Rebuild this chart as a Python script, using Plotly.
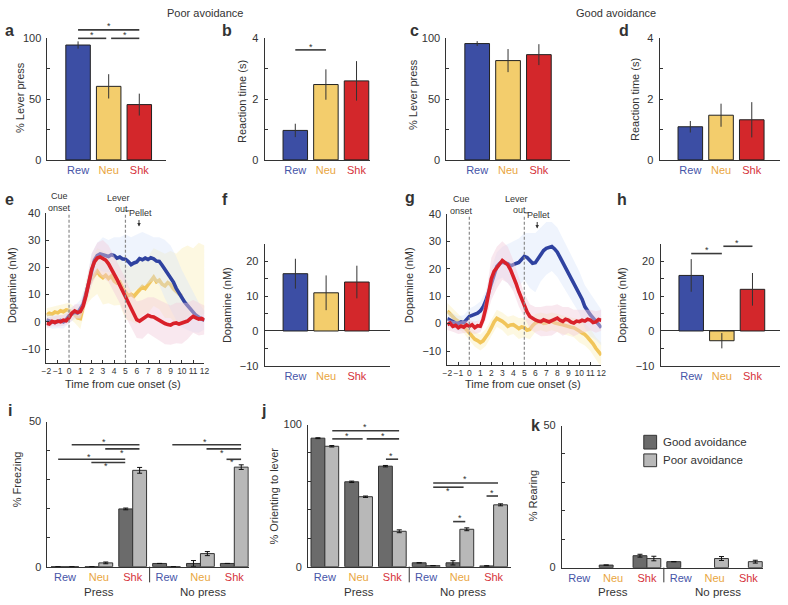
import plotly.graph_objects as go

W, H = 788, 605
FONT = "Liberation Sans, Arial, Helvetica, sans-serif"
TXT = "#333333"
AX = "#333333"

# ---------------- categories / colours ----------------
cats = ["Rew", "Neu", "Shk"]
cat_text_colors = ["#4654a8", "#e9a63e", "#d5323a"]
bar_colors = ["#3c4ea4", "#f3cd6c", "#d3272b"]
line_colors = {"Rew": "#2f42a0", "Neu": "#f1c55a", "Shk": "#d9212a"}
band_colors = {"Rew": "rgba(215,228,250,0.40)", "Neu": "rgba(250,236,170,0.35)",
               "Shk": "rgba(242,205,220,0.45)"}

# ---------------- a-d, f, h bar data ----------------
lever_poor = [94.5, 60.5, 45.5]
lever_poor_err = [3, 10, 9]
rt_poor = [0.97, 2.48, 2.6]
rt_poor_err = [0.22, 0.5, 0.65]
lever_good = [95.7, 81.7, 86.6]
lever_good_err = [2, 9.5, 8.6]
rt_good = [1.09, 1.47, 1.32]
rt_good_err = [0.19, 0.38, 0.58]
da_poor = [16.5, 11.0, 14.1]
da_poor_err = [4.3, 5.0, 4.7]
da_good = [16.0, -2.8, 12.0]
da_good_err = [4.7, 2.2, 4.7]

# ---------------- i-k behaviour data ----------------
beh_groups = ["Rew", "Neu", "Shk", "Rew", "Neu", "Shk"]
freeze_good = [0, 0, 19.9, 1.1, 1.1, 1.1]
freeze_good_err = [0, 0, 0.3, 0, 1.0, 0]
freeze_poor = [0, 1.3, 33.2, 0, 4.5, 34.3]
freeze_poor_err = [0, 0.3, 1.0, 0, 0.7, 0.8]
orient_good = [90.4, 59.7, 70.7, 2.7, 2.7, 0.5]
orient_good_err = [0.3, 0.5, 0.5, 0, 1.5, 0.2]
orient_poor = [84.7, 49.2, 24.9, 0.7, 26.3, 43.5]
orient_poor_err = [0.5, 0.5, 1.0, 0, 1.0, 0.7]
rear_good = [None, 0.9, 4.2, 2.1, None, None]
rear_good_err = [0, 0, 0.5, 0, 0, 0]
rear_poor = [None, None, 3.2, None, 3.2, 2.1]
rear_poor_err = [0, 0, 0.8, 0, 0.7, 0.5]

# ---------------- e, g dopamine traces (0.25 s samples, -2..12 s) ----------------
t_line = [-2 + 0.25 * i for i in range(57)]
t_band = [-2 + 0.5 * i for i in range(29)]

e_rew = [0.7, 0.2, 0.0, -0.3, 0.1, 0.5, 0.0, 0.8, 2.2, 3.0, 3.6, 3.2, 4.8, 6.5, 10.2, 14.8,
         19.2, 22.6, 24.3, 24.9, 24.6, 24.2, 24.0, 24.6, 24.3, 23.4, 23.8, 23.1, 23.0, 22.1,
         21.0, 21.6, 22.0, 23.2, 22.8, 23.4, 22.9, 23.5, 23.1, 22.3, 22.2, 20.8, 19.3, 17.9,
         16.2, 14.6, 12.3, 10.4, 8.5, 7.2, 6.0, 4.6, 3.6, 2.4, 1.5, 1.0, 0.6]
e_neu = [2.5, 3.2, 2.8, 3.6, 3.3, 4.1, 3.7, 4.4, 4.2, 3.5, 2.6, 1.5, 1.2, 5.5, 10.5, 13.6,
         15.8, 17.2, 18.6, 17.0, 16.2, 17.1, 15.9, 16.8, 15.0, 14.2, 14.6, 12.4, 11.0, 9.6,
         10.1, 9.4, 10.6, 11.8, 12.9, 12.2, 13.6, 15.1, 16.4, 14.7, 15.3, 13.8, 13.2, 14.4,
         13.7, 12.1, 11.0, 10.2, 9.6, None, None, None, None, None, None, None, None]
e_shk = [-0.5, -0.8, 0.2, -0.2, 0.3, 0.0, 0.6, 0.4, 1.5, 3.2, 4.0, 3.4, 3.8, 5.8, 9.6, 14.4,
         19.2, 22.0, 23.4, 23.8, 23.1, 22.6, 21.3, 19.6, 17.5, 15.6, 13.4, 11.2, 9.0, 6.8,
         4.5, 2.4, 0.8, 0.3, 0.9, 1.6, 2.4, 2.0, 1.8, 1.2, 0.6, -0.2, -0.6, -1.0, -1.2, -0.6,
         -0.4, -0.8, -0.5, -0.2, 0.3, 1.2, 2.0, 1.5, 1.0, 1.3, 0.7]

e_rew_hi = [3, 2.5, 2.5, 2.5, 5, 6, 8, 14, 25, 29, 31, 30, 31, 31, 32, 31, 32, 33, 32, 31,
            31, 30, 28, 24, 19, 15, 11, 7, 4]
e_rew_lo = [-1.5, -2.5, -2.3, -2.4, -0.5, 1, 1.5, 6.5, 13.5, 19.5, 18.5, 18.3, 17.6, 16.5,
            14, 11, 12, 13, 14, 15.2, 13.4, 8.6, 4.4, 0.6, -2, -3, -3.8, -4, -2.8]
e_neu_hi = [5, 5.5, 6, 6.5, 7, 5.5, 5, 15, 23, 27, 26, 25, 24, 23, 21, 20, 22, 23, 24, 27,
            26, 25, 26, 25, 27, 28, 27, 29, 28]
e_neu_lo = [0, 0, 0.6, 1, 1.4, -0.3, -2.6, 6, 8.6, 10.2, 6.4, 6.8, 6, 6.2, 1, 0.2, -0.8,
            2.6, 3.2, 5.8, 4.6, 1.4, 1.4, -1, 0, 2, 3, 2, 3]
e_shk_hi = [1.5, 2, 2.3, 2.6, 3.5, 6.5, 6.5, 13, 25, 29, 30, 28, 24, 20, 16, 11, 7.5, 8, 9,
            9, 8, 7, 6, 7, 7, 7, 8, 7, 6]
e_shk_lo = [-2.5, -1.6, -1.7, -1.4, -0.5, 1.5, 1.1, 6.2, 13.4, 17.8, 16.2, 14.6, 11, 6.8, 2,
            -2, -5.9, -6.2, -4.2, -5.4, -6.8, -8.2, -8.4, -7.8, -8, -6.4, -4, -5, -4.6]

g_rew = [1.8, 1.2, 0.8, 0.2, 0.0, 0.6, 0.3, 1.4, 2.6, 3.0, 3.3, 3.8, 4.6, 6.0, 8.3, 11.5,
         15.2, 18.6, 20.8, 21.9, 22.4, 22.1, 21.8, 21.0, 21.3, 21.9, 22.3, 23.6, 24.5, 24.1,
         23.0, 22.0, 22.2, 23.6, 25.2, 26.6, 27.4, 27.9, 28.1, 27.2, 26.0, 24.1, 22.2, 20.3,
         18.6, 16.9, 15.0, 13.3, 11.4, 8.9, 6.2, 4.4, 3.2, 2.1, 1.0, -0.4, -1.5]
g_neu = [4.6, 3.4, 2.6, 1.5, 0.8, -0.2, -1.0, -2.2, -3.3, -4.6, -5.7, -6.2, -6.9, -6.3, -5.1,
         -3.4, -1.5, 0.6, 1.9, 1.4, 0.8, 0.0, -1.0, -0.5, -0.4, -1.1, -1.8, -1.2, -1.5, -2.4,
         -2.1, -0.8, 0.2, 0.6, 0.8, 0.1, 0.2, 0.9, 0.8, 0.3, 0.2, -0.2, -0.4, -0.8, -1.0,
         -1.3, -1.5, -2.0, -2.7, -3.4, -4.0, -5.0, -6.0, -7.4, -9.0, -10.2, -11.5]
g_shk = [-0.4, 0.2, -1.0, -0.6, -1.5, -0.9, -1.3, -0.5, -1.0, -0.4, -1.5, -0.8, -1.0, 1.5,
         5.6, 11.2, 16.3, 19.0, 20.4, 21.8, 23.0, 22.2, 21.4, 19.6, 17.4, 14.6, 11.6, 8.9,
         6.6, 4.2, 2.6, 1.8, 1.3, 0.9, 0.7, 1.4, 1.0, 0.6, 1.1, 1.6, 2.0, 1.2, 0.8, 1.6, 1.3,
         0.5, 0.2, 0.9, 0.7, 1.2, 0.9, 1.6, 1.3, 0.4, 0.6, 1.5, 1.2]

g_rew_hi = [4.5, 3.5, 2.8, 3, 5.5, 6.5, 8, 12, 20, 26, 28, 29, 30, 31, 33, 33, 33, 35, 37,
            37, 35, 31, 27, 23, 19, 14, 11, 8, 5]
g_rew_lo = [-0.9, -1.9, -2.8, -2.4, -0.3, 0.1, 1.2, 4.6, 10.4, 15.6, 16.8, 14.6, 12.6, 13.6,
            16, 13, 11.4, 15.4, 17.8, 19.2, 17, 13.4, 10.2, 7, 3.8, -1.6, -4.6, -6, -8]
g_neu_hi = [7.5, 5.5, 3.5, 1.5, -0.5, -3, -4, -2, 1.5, 5, 4, 2.5, 3, 2, 2, 1.5, 3.5, 4,
            3.5, 4, 3.5, 3, 2.5, 2, 1.5, 0, -2, -5, -7]
g_neu_lo = [1.7, -0.3, -1.9, -3.5, -6.1, -8.4, -9.8, -8.2, -4.5, -1.2, -2.4, -4.5, -3.8,
            -5.6, -5, -5.7, -3.1, -2.4, -3.1, -2.4, -3.1, -3.8, -4.5, -5, -6.9, -8, -10,
            -13, -16]
g_shk_hi = [1.5, 1, 0.8, 0.9, 1.2, 0.8, 1.2, 9.6, 24, 28, 30, 28, 23, 17, 11, 7, 6, 6, 6.5,
            6.5, 7, 6, 6, 5, 5, 5, 5, 4.5, 5]
g_shk_lo = [-2.3, -3, -3.8, -3.5, -3.2, -3.8, -3.2, 1.6, 8.6, 12.8, 16, 14.8, 11.8, 6.2, 2.2,
            -1.8, -3.4, -4.6, -4.5, -4.3, -3, -4.4, -3.4, -4.6, -3.6, -3.2, -2.4, -3.3, -2.6]

# ---------------- panel geometry (pixels) ----------------
panels = {
    "a": dict(n=1, x=(43, 163), y=(33, 157), xr=(0, 3.87), yr=(0, 100)),
    "b": dict(n=2, x=(263, 370), y=(33, 157), xr=(0, 3.45), yr=(0, 4)),
    "c": dict(n=3, x=(447, 572), y=(33, 157), xr=(0, 4.0), yr=(0, 100)),
    "d": dict(n=4, x=(663, 785), y=(33, 157), xr=(0, 3.92), yr=(0, 4)),
    "e": dict(n=5, x=(42, 202), y=(211, 364), xr=(-2, 12), yr=(-15, 40)),
    "f": dict(n=6, x=(263, 390), y=(243, 367), xr=(0, 4.08), yr=(-10, 25)),
    "g": dict(n=7, x=(448, 604), y=(212, 366), xr=(-2, 12), yr=(-15, 40)),
    "h": dict(n=8, x=(664, 785), y=(243, 367), xr=(0, 3.9), yr=(-10, 25)),
    "i": dict(n=9, x=(43, 247), y=(424, 572), xr=(0.484, 6.43), yr=(0, 50)),
    "j": dict(n=10, x=(307, 512), y=(427, 572), xr=(0.504, 6.5), yr=(0, 100)),
    "k": dict(n=11, x=(564, 768), y=(428, 573), xr=(0.484, 6.44), yr=(0, 50)),
}


def P(xpx, ypx):
    return xpx / W, 1 - ypx / H


def to_paper(p, x, y):
    d = panels[p]
    X = d["x"][0] + (x - d["xr"][0]) / (d["xr"][1] - d["xr"][0]) * (d["x"][1] - d["x"][0])
    Y = d["y"][1] - (y - d["yr"][0]) / (d["yr"][1] - d["yr"][0]) * (d["y"][1] - d["y"][0])
    return P(X, Y)


def axn(p):
    n = panels[p]["n"]
    return ("x", "y") if n == 1 else (f"x{n}", f"y{n}")


def colored(labels):
    return [f"<span style='color:{cat_text_colors[cats.index(l)]}'>{l}</span>" for l in labels]


fig = go.Figure()
layout = dict(width=W, height=H, margin=dict(l=0, r=0, t=0, b=0),
              paper_bgcolor="white", plot_bgcolor="white", showlegend=False,
              barmode="overlay", font=dict(family=FONT, size=11, color=TXT))

tickfont = dict(family=FONT, size=11, color=TXT)

for p, d in panels.items():
    n = d["n"]
    xk = "xaxis" if n == 1 else f"xaxis{n}"
    yk = "yaxis" if n == 1 else f"yaxis{n}"
    xa, ya = axn(p)
    xd = [d["x"][0] / W, d["x"][1] / W]
    yd = [1 - d["y"][1] / H, 1 - d["y"][0] / H]
    layout[xk] = dict(domain=xd, range=list(d["xr"]), anchor=ya, showline=True, linecolor=AX,
                      linewidth=1, showgrid=False, zeroline=False, ticks="", fixedrange=True,
                      tickfont=tickfont, tickangle=0)
    layout[yk] = dict(domain=yd, range=list(d["yr"]), anchor=xa, showline=True, linecolor=AX,
                      linewidth=1, showgrid=False, zeroline=False, ticks="inside", ticklen=3,
                      tickcolor=AX, fixedrange=True, tickfont=tickfont, ticklabelstandoff=3)


def set_y(p, vals, texts):
    n = panels[p]["n"]
    yk = "yaxis" if n == 1 else f"yaxis{n}"
    layout[yk].update(tickmode="array", tickvals=vals, ticktext=texts)


def set_x(p, vals, texts, **kw):
    n = panels[p]["n"]
    xk = "xaxis" if n == 1 else f"xaxis{n}"
    layout[xk].update(tickmode="array", tickvals=vals, ticktext=texts, **kw)


# ---- simple 3-bar panels ----
for p, vals, errs in [("a", lever_poor, lever_poor_err), ("b", rt_poor, rt_poor_err),
                      ("c", lever_good, lever_good_err), ("d", rt_good, rt_good_err),
                      ("f", da_poor, da_poor_err), ("h", da_good, da_good_err)]:
    xa, ya = axn(p)
    fig.add_trace(go.Bar(x=[1, 2, 3], y=vals, width=0.8, offset=-0.4, xaxis=xa, yaxis=ya,
                         marker=dict(color=bar_colors, line=dict(color="#222", width=1)),
                         error_y=dict(type="data", array=errs, color="#333", thickness=1, width=0),
                         hoverinfo="skip"))
    set_x(p, [1, 2, 3], colored(cats))

set_y("a", [0, 25, 50, 75, 100], ["0", "", "50", "", "100"])
set_y("c", [0, 25, 50, 75, 100], ["0", "", "50", "", "100"])
set_y("b", [0, 1, 2, 3, 4], ["0", "", "2", "", "4"])
set_y("d", [0, 1, 2, 3, 4], ["0", "", "2", "", "4"])
for p in ["f", "h"]:
    set_y(p, [-10, -5, 0, 5, 10, 15, 20], ["−10", "", "0", "", "10", "", "20"])
    n = panels[p]["n"]
    layout[f"yaxis{n}"].update(zeroline=True, zerolinecolor=AX, zerolinewidth=1)

# ---- dopamine traces ----
for p, series in [("e", [("Neu", e_neu, e_neu_hi, e_neu_lo), ("Rew", e_rew, e_rew_hi, e_rew_lo),
                         ("Shk", e_shk, e_shk_hi, e_shk_lo)]),
                  ("g", [("Neu", g_neu, g_neu_hi, g_neu_lo), ("Rew", g_rew, g_rew_hi, g_rew_lo),
                         ("Shk", g_shk, g_shk_hi, g_shk_lo)])]:
    xa, ya = axn(p)
    for name, mean, hi, lo in series:
        fig.add_trace(go.Scatter(x=t_band + t_band[::-1], y=hi + lo[::-1], fill="toself",
                                 fillcolor=band_colors[name], line=dict(width=0), mode="lines",
                                 xaxis=xa, yaxis=ya, hoverinfo="skip"))
        fig.add_trace(go.Scatter(x=t_line, y=mean, mode="lines", name=name,
                                 line=dict(color=line_colors[name], width=3.6),
                                 xaxis=xa, yaxis=ya, hoverinfo="skip"))
    set_x(p, list(range(-2, 13)), [("−" + str(-v)) if v < 0 else str(v) for v in range(-2, 13)],
          ticks="inside", ticklen=3, tickcolor=AX, tickangle=0,
          tickfont=dict(family=FONT, size=8.5, color=TXT))
    set_y(p, [-10, 0, 10, 20, 30, 40], ["−10", "0", "10", "20", "30", "40"])

# ---- behaviour panels ----
for p, good, goode, poor, poore in [("i", freeze_good, freeze_good_err, freeze_poor, freeze_poor_err),
                                    ("j", orient_good, orient_good_err, orient_poor, orient_poor_err),
                                    ("k", rear_good, rear_good_err, rear_poor, rear_poor_err)]:
    xa, ya = axn(p)
    xs = [1, 2, 3, 4, 5, 6]
    fig.add_trace(go.Bar(x=xs, y=good, width=0.41, offset=-0.41, name="Good avoidance",
                         marker=dict(color="#6b6b6b", line=dict(color="#333", width=1)),
                         error_y=dict(type="data", array=goode, color="#111", thickness=1, width=2.5),
                         xaxis=xa, yaxis=ya, hoverinfo="skip"))
    fig.add_trace(go.Bar(x=xs, y=poor, width=0.41, offset=0, name="Poor avoidance",
                         marker=dict(color="#b8b8b8", line=dict(color="#333", width=1)),
                         error_y=dict(type="data", array=poore, color="#111", thickness=1, width=2.5),
                         xaxis=xa, yaxis=ya, hoverinfo="skip"))
    set_x(p, xs, colored(beh_groups))
set_y("i", [0, 10, 20, 30, 40, 50], ["0", "", "", "", "", "50"])
set_y("k", [0, 10, 20, 30, 40, 50], ["0", "", "", "", "", "50"])
set_y("j", [0, 20, 40, 60, 80, 100], ["0", "", "", "", "", "100"])

# ---------------- annotations & shapes ----------------
ann = []
shapes = []


def text(xpx, ypx, s, size=11, bold=False, angle=0, xanchor="center", color=TXT):
    x, y = P(xpx, ypx)
    ann.append(dict(x=x, y=y, xref="paper", yref="paper", text=f"<b>{s}</b>" if bold else s,
                    showarrow=False, textangle=angle, xanchor=xanchor, yanchor="middle",
                    font=dict(family=FONT, size=size, color=color)))


def sig(p, x0, x1, y):
    a0 = to_paper(p, x0, y)
    a1 = to_paper(p, x1, y)
    shapes.append(dict(type="line", xref="paper", yref="paper", x0=a0[0], y0=a0[1],
                       x1=a1[0], y1=a1[1], line=dict(color="#3a3a3a", width=1.6)))


def star(p, x, y):
    a = to_paper(p, x, y)
    ann.append(dict(x=a[0], y=a[1], xref="paper", yref="paper", text="*", showarrow=False,
                    xanchor="center", yanchor="middle", font=dict(family=FONT, size=9, color=TXT)))


# titles
text(203, 7, "Poor avoidance", size=11)
text(619, 7, "Good avoidance", size=11)

# panel letters
for s, xp, yp in [("a", 5, 25), ("b", 225, 25), ("c", 415, 25), ("d", 627, 25),
                  ("e", 5, 197), ("f", 223, 197), ("g", 410, 195), ("h", 625, 197),
                  ("i", 5, 413), ("j", 262, 413), ("k", 537, 428)]:
    text(xp, yp, s, size=16, bold=True)

# y axis titles
for s, xp, yp in [("% Lever press", 15, 93), ("Reaction time (s)", 240, 97),
                  ("% Lever press", 413, 90), ("Reaction time (s)", 638, 95),
                  ("Dopamine (nM)", 7, 285), ("Dopamine (nM)", 225, 305),
                  ("Dopamine (nM)", 410, 285), ("Dopamine (nM)", 625, 305),
                  ("% Freezing", 13, 483), ("% Orienting to lever", 273, 500),
                  ("% Rearing", 535, 500)]:
    text(xp, yp, s, size=11, angle=-90)

# x axis titles for traces
text(120, 386, "Time from cue onset (s)", size=11)
text(525, 386, "Time from cue onset (s)", size=11)

# event markers in e and g
for p, cue_xy, lever_xy, pellet_xy, arrow_x, arrow_y in [
        ("e", (55, 194), (115, 196), (137, 211), 6.2, (217, 225)),
        ("g", (462, 197), (518, 197), (540, 213), 6.17, (219, 227))]:
    n = panels[p]["n"]
    for tv in [0, 5]:
        shapes.append(dict(type="line", xref=f"x{n}", yref=f"y{n}", x0=tv, x1=tv, y0=-15, y1=39.5,
                           line=dict(color="#8a8a8a", width=1.2, dash="3px,2px")))
    text(cue_xy[0], cue_xy[1], "Cue", size=9)
    text(cue_xy[0], cue_xy[1] + 12, "onset", size=9)
    text(lever_xy[0], lever_xy[1], "Lever", size=9)
    text(lever_xy[0] + 3, lever_xy[1] + 11, "out", size=9)
    text(pellet_xy[0], pellet_xy[1], "Pellet", size=9)
    lx = to_paper(p, 5, 0)[0]
    shapes.append(dict(type="line", xref="paper", yref="paper",
                       x0=lx, x1=lx + 4 / W, y0=1 - (pellet_xy[1] - 2) / H, y1=1 - (pellet_xy[1] - 2) / H,
                       line=dict(color="#555", width=1)))
    ax_p = to_paper(p, arrow_x, 0)[0]
    ann.append(dict(x=ax_p, y=1 - arrow_y[1] / H, xref="paper", yref="paper", text="",
                    showarrow=True, ax=0, ay=-(arrow_y[1] - arrow_y[0]), arrowhead=2,
                    arrowsize=0.7, arrowwidth=1, arrowcolor="#333"))

# significance bars
sig("a", 1, 3, 107); star("a", 2, 110)
sig("a", 1, 1.92, 100); star("a", 1.46, 103)
sig("a", 2.08, 3, 100); star("a", 2.54, 103)
sig("b", 1, 2, 3.62); star("b", 1.5, 3.73)
sig("h", 1, 2, 22.3); star("h", 1.5, 23.3)
sig("h", 2.05, 3, 24.4); star("h", 2.5, 25.4)

sig("i", 1.2, 3.2, 42); star("i", 2.15, 43.1)
sig("i", 2.19, 3.2, 40.6); star("i", 2.68, 39.3)
sig("i", 0.8, 2.78, 37); star("i", 1.71, 37.8)
sig("i", 1.78, 2.78, 35.9); star("i", 2.21, 34.7)
sig("i", 4.17, 6.2, 42); star("i", 5.14, 43.1)
sig("i", 5.18, 6.2, 40.6); star("i", 5.64, 39.3)
sig("i", 5.77, 6.2, 37); star("i", 5.94, 36.0)

sig("j", 1.22, 3.2, 95.6); star("j", 2.2, 98.4)
sig("j", 1.22, 2.12, 89.9); star("j", 1.66, 92.2)
sig("j", 2.24, 3.2, 89.9); star("j", 2.71, 92.2)
sig("j", 2.81, 3.17, 75.6); star("j", 2.97, 77.9)
sig("j", 4.21, 6.13, 58.9); star("j", 5.16, 61.6)
sig("j", 4.21, 5.11, 55.9); star("j", 4.65, 53.1)
sig("j", 4.8, 5.16, 31.7); star("j", 4.99, 34.3)
sig("j", 5.79, 6.13, 49.7); star("j", 5.96, 51.9)

# press / no press labels and separators
for p in ["i", "j", "k"]:
    a = to_paper(p, 3.5, 0)
    shapes.append(dict(type="line", xref="paper", yref="paper", x0=a[0], x1=a[0],
                       y0=a[1], y1=1 - 588 / H, line=dict(color=AX, width=1)))
    xp2 = to_paper(p, 2, 0)[0] * W
    xp5 = to_paper(p, 5, 0)[0] * W
    text(xp2, 598, "Press", size=11.5)
    text(xp5 + 3, 598, "No press", size=11.5)

# legend for i-k
for (y0, y1, col, label) in [(438, 452, "#6b6b6b", "Good avoidance"),
                             (457, 470, "#b8b8b8", "Poor avoidance")]:
    shapes.append(dict(type="rect", xref="paper", yref="paper", x0=647 / W, x1=660 / W,
                       y0=1 - y1 / H, y1=1 - y0 / H, fillcolor=col, line=dict(color="#333", width=1)))
    text(664, (y0 + y1) / 2, label, size=11.5, xanchor="left")

layout["annotations"] = ann
layout["shapes"] = shapes
fig.update_layout(**layout)
fig.write_html("out.html", config={"displayModeBar": False},
               post_script="document.body.style.margin='0';document.body.style.overflow='hidden';")
